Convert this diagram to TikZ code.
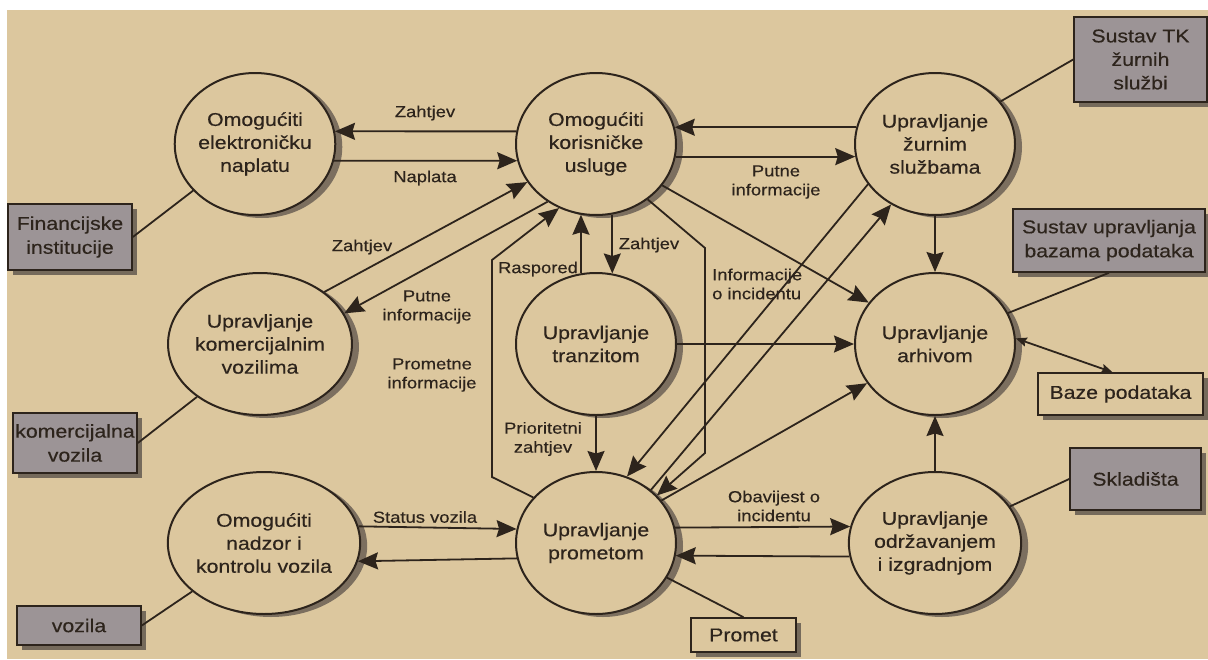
\documentclass[tikz,border=0pt]{standalone}
\usepackage{fontspec}
\setmainfont{Liberation Sans}[FakeStretch=1.15,FakeBold=0.4]
\usetikzlibrary{shapes.geometric,arrows.meta,shadows}
\definecolor{bg}{RGB}{220,199,158}
\definecolor{ink}{RGB}{45,36,28}
\definecolor{boxgray}{RGB}{156,148,150}
\definecolor{shade}{RGB}{100,90,80}
\tikzset{
 proc/.style={ellipse, draw=ink, line width=2pt, fill=bg, minimum width=160pt, minimum height=142pt, inner sep=0pt, align=center, font=\fontsize{18.5}{23}\selectfont, text=ink, drop shadow={shadow xshift=7pt, shadow yshift=-3pt, fill=shade, opacity=0.8}},
 ext/.style={rectangle, draw=ink, line width=1.6pt, fill=boxgray, align=center, inner sep=0pt, font=\fontsize{18.5}{24}\selectfont, text=ink, drop shadow={shadow xshift=5pt, shadow yshift=-5pt, fill=shade, opacity=0.85}},
 store/.style={ext, fill=bg},
 flow/.style={draw=ink, line width=1.8pt, -{Stealth[length=20pt,width=17pt,inset=2.5pt]}},
 dbl/.style={draw=ink, line width=1.8pt, {Stealth[length=11pt,width=9pt,inset=1.5pt]}-{Stealth[length=11pt,width=9pt,inset=1.5pt]}},
 link/.style={draw=ink, line width=1.8pt},
 lbl/.style={font=\fontsize{16}{19}\selectfont, text=ink, align=center, inner sep=0pt},
}
\begin{document}
\begin{tikzpicture}[x=1pt,y=-1pt]
\useasboundingbox (0,0) rectangle (1208,659);
\fill[white] (0,0) rectangle (1208,659);
\fill[bg] (7,10) rectangle (1208,659);

% processes
\node[proc] (c1) at (255,144) {Omogućiti\\elektroničku\\naplatu};
\node[proc] (c2) at (596,144) {Omogućiti\\korisničke\\usluge};
\node[proc] (c3) at (935,144) {Upravljanje\\žurnim\\službama};
\node[proc] (c8) at (260,344) {Upravljanje\\komercijalnim\\vozilima};
\node[proc] (c9) at (596,344) {Upravljanje\\tranzitom};
\node[proc] (c4) at (935,344) {Upravljanje\\arhivom};
\node[proc] (c7) at (264,543) {Omogućiti\\nadzor i\\kontrolu vozila};
\node[proc] (c6) at (596,543) {Upravljanje\\prometom};
\node[proc] (c5) at (935,543) {Upravljanje\\održavanjem\\i izgradnjom};

% terminators / stores
\node[ext, minimum width=124pt, minimum height=66pt] (fin) at (70,237) {Financijske\\institucije};
\node[ext, minimum width=124pt, minimum height=60pt] (kom) at (75,443) {komercijalna\\vozila};
\node[ext, minimum width=124pt, minimum height=39pt] (voz) at (79,625.5) {vozila};
\node[store, minimum width=105pt, minimum height=34pt] (promet) at (743.5,635) {Promet};
\node[store, minimum width=165pt, minimum height=42pt] (baze) at (1120.5,394) {Baze podataka};
\node[ext, minimum width=131pt, minimum height=62pt] (sklad) at (1135.5,479) {Skladišta};
\node[ext, minimum width=192pt, minimum height=63pt] (sub) at (1109,240.5) {Sustav upravljanja\\bazama podataka};
\node[ext, minimum width=133pt, minimum height=85pt, font=\fontsize{18.5}{23.5}\selectfont] (stk) at (1140.5,59.5) {Sustav TK\\žurnih\\službi};

% corner points
\coordinate (pA) at (492,477);
\coordinate (pB) at (492,260);
\coordinate (pC) at (705,248);
\coordinate (pD) at (705,453);

% flows
\draw[flow] (c2.171) -- (c1.9);
\draw[flow] (c1.-12) -- (c2.192);
\draw[flow] (c3.168) -- (c2.12);
\draw[flow] (c2.-9) -- (c3.189);
\draw[flow] (c8.39) -- (c2.209);
\draw[flow] (c2.230) -- (c8.20);
\draw[flow] (c6.144) -- (pA) -- (pB) -- (c2.240);
\draw[flow] (c9.102) -- (c2.258);
\draw[flow] (c2.-77) -- (c9.77);
\draw[flow] (c2.-47) -- (pC) -- (pD) -- (c6.38);
\draw[flow] (c3.211) -- (c6.65);
\draw[flow] (c6.44) -- (c3.234);
\draw[flow] (c6.33) -- (c4.210);
\draw[flow] (c2.-32) -- (c4.148);
\draw[flow] (c9.east) -- (c4.west);
\draw[flow] (c3.south) -- (c4.north);
\draw[flow] (c5.north) -- (c4.south);
\draw[flow] (c9.south) -- (c6.north);
\draw[flow] (c7.10) -- (c6.170);
\draw[flow] (c6.191) -- (c7.-11);
\draw[flow] (c6.11) -- (c5.169);
\draw[flow] (c5.189) -- (c6.-9);
\draw[dbl] (c4.4) -- ([xshift=-8pt]baze.north);

% plain links
\draw[link] (c6.-26) -- (promet.north);
\draw[link] (c5.26) -- (sklad.west);
\draw[link] (c4.23) -- (sub.south);
\draw[link] (c3.33) -- (stk.west);
\draw[link] (c1.217) -- (fin.east);
\draw[link] (c8.220) -- (kom.east);
\draw[link] (c7.214) -- (voz.east);

% labels
\node[lbl] (l1) at (425,113) {Zahtjev};
\node[lbl] (l2) at (425,178) {Naplata};
\node[lbl] (l3) at (776,182) {Putne\\informacije};
\node[lbl] (l4) at (362,247) {Zahtjev};
\node[lbl] (l5) at (427,307) {Putne\\informacije};
\node[lbl] (l6) at (538,269) {Raspored};
\node[lbl] (l7) at (649,245) {Zahtjev};
\node[lbl, align=left, anchor=west] (l8) at (712,284) {Informacije\\o incidentu};
\node[lbl] (l9) at (432,375) {Prometne\\informacije};
\node[lbl] (l10) at (543,439) {Prioritetni\\zahtjev};
\node[lbl] (l11) at (425,517) {Status vozila};
\node[lbl] (l12) at (774,506) {Obavijest o\\incidentu};
\end{tikzpicture}
\end{document}
